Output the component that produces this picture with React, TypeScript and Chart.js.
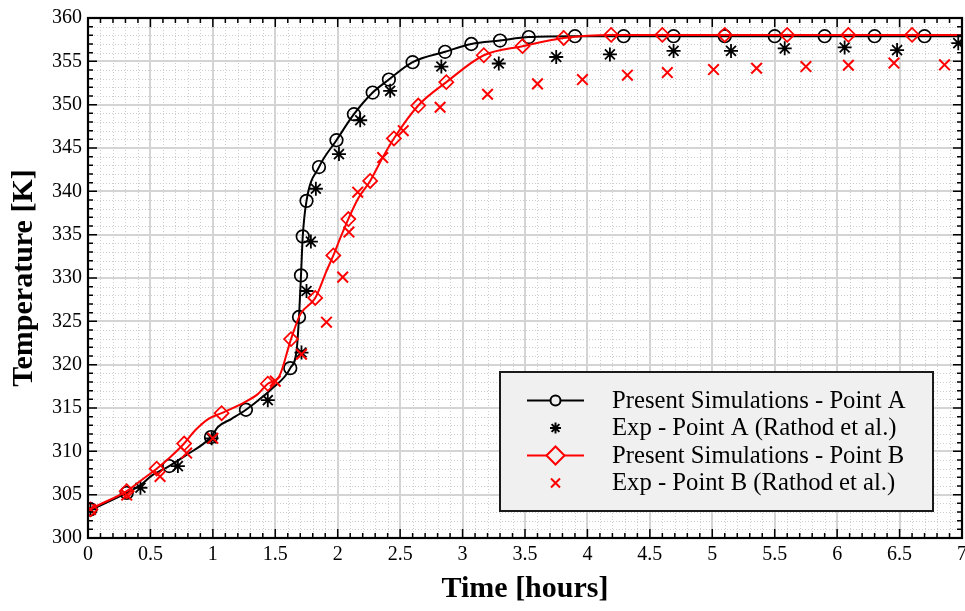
import React, { useEffect, useRef } from 'react';
import { Chart, registerables } from 'chart.js';

Chart.register(...registerables);

// ---------- data ----------
// Present simulations - Point A: curve vertices
const simALineTime = [0.0, 0.03, 0.31, 0.42, 0.51, 0.65, 0.78, 0.985, 1.04, 1.15, 1.265, 1.365, 1.47, 1.62, 1.672, 1.69, 1.706, 1.72, 1.75, 1.85, 1.99, 2.13, 2.28, 2.41, 2.6, 2.86, 3.07, 3.3, 3.53, 3.9, 7.0];
const simALineTemp = [303.1, 303.3, 305.2, 306.1, 307.2, 308.3, 309.5, 311.65, 312.8, 313.75, 314.8, 315.9, 317.2, 319.6, 321.8, 325.5, 330.3, 334.8, 338.9, 342.8, 345.9, 348.9, 351.4, 352.9, 354.9, 356.1, 357.0, 357.4, 357.8, 357.9, 357.9];
// Present simulations - Point A: circle markers
const simAMarkTime = [0.02, 0.31, 0.65, 0.985, 1.265, 1.62, 1.69, 1.706, 1.72, 1.75, 1.85, 1.99, 2.13, 2.28, 2.41, 2.6, 2.86, 3.07, 3.3, 3.53, 3.9, 4.29, 4.69, 5.1, 5.5, 5.9, 6.3, 6.7];
const simAMarkTemp = [303.3, 305.2, 308.3, 311.65, 314.8, 319.6, 325.5, 330.3, 334.8, 338.9, 342.8, 345.9, 348.9, 351.4, 352.9, 354.9, 356.1, 357.0, 357.4, 357.8, 357.9, 357.9, 357.9, 357.9, 357.9, 357.9, 357.9, 357.9];

// Exp - Point A (Rathod et al.)
const expATime = [0.02, 0.42, 0.72, 0.99, 1.44, 1.71, 1.75, 1.785, 1.825, 2.01, 2.18, 2.42, 2.83, 3.29, 3.75, 4.18, 4.69, 5.15, 5.58, 6.06, 6.48, 6.97];
const expATemp = [303.3, 305.8, 308.3, 311.5, 315.9, 321.4, 328.5, 334.2, 340.3, 344.3, 348.2, 351.6, 354.4, 354.75, 355.5, 355.8, 356.2, 356.2, 356.5, 356.6, 356.3, 357.1];

// Present simulations - Point B: curve vertices
const simBLineTime = [0.0, 0.02, 0.31, 0.43, 0.55, 0.66, 0.77, 0.857, 0.965, 1.07, 1.26, 1.36, 1.44, 1.53, 1.626, 1.7, 1.82, 1.91, 1.965, 2.02, 2.085, 2.165, 2.26, 2.36, 2.45, 2.645, 2.87, 3.17, 3.48, 3.81, 4.19, 7.0];
const simBLineTemp = [303.1, 303.3, 305.4, 306.7, 308.0, 309.35, 310.9, 312.4, 313.75, 314.4, 315.7, 316.6, 317.8, 318.6, 322.95, 325.8, 327.7, 330.8, 332.6, 334.6, 336.8, 339.2, 341.2, 343.9, 346.1, 349.9, 352.6, 355.7, 356.75, 357.7, 358.05, 358.05];
// Present simulations - Point B: diamond markers
const simBMarkTime = [0.02, 0.31, 0.55, 0.77, 1.07, 1.44, 1.626, 1.82, 1.965, 2.085, 2.26, 2.45, 2.645, 2.87, 3.17, 3.48, 3.81, 4.19, 4.6, 5.1, 5.6, 6.09, 6.6];
const simBMarkTemp = [303.3, 305.4, 308.0, 310.9, 314.4, 317.8, 322.95, 327.7, 332.6, 336.8, 341.2, 346.1, 349.9, 352.6, 355.7, 356.75, 357.7, 358.05, 358.05, 358.05, 358.05, 358.05, 358.05];

// Exp - Point B (Rathod et al.)
const expBTime = [0.02, 0.31, 0.577, 0.79, 1.0, 1.5, 1.71, 1.91, 2.04, 2.09, 2.16, 2.36, 2.525, 2.82, 3.2, 3.6, 3.96, 4.32, 4.64, 5.01, 5.355, 5.75, 6.09, 6.455, 6.86];
const expBTemp = [303.3, 304.95, 307.1, 309.8, 311.5, 318.1, 321.2, 324.9, 330.1, 335.3, 339.9, 343.9, 347.0, 349.7, 351.2, 352.4, 352.9, 353.4, 353.7, 354.05, 354.2, 354.4, 354.55, 354.8, 354.6];

const legendLabels = [
  'Present Simulations - Point A',
  'Exp - Point A (Rathod et al.)',
  'Present Simulations - Point B',
  'Exp - Point B (Rathod et al.)',
];

const X_MIN = 0, X_MAX = 7, X_MAJOR = 0.5, X_MINOR = 0.1;
const Y_MIN = 300, Y_MAX = 360, Y_MAJOR = 5, Y_MINOR = 1;
const X_TITLE = 'Time [hours]';
const Y_TITLE = 'Temperature [K]';

// ---------- styling ----------
const FONT = '"Liberation Serif", "Times New Roman", Times, serif';
const RED = '#ff0000';
const BLACK = '#000000';

const toXY = (xs: number[], ys: number[]) => xs.map((x, i) => ({ x, y: ys[i] }));

const gridFramePlugin = {
  id: 'gridFrame',
  beforeDatasetsDraw(chart: any) {
    const { ctx, chartArea: a, scales } = chart;
    const xs = scales.x, ys = scales.y;
    ctx.save();
    const nx = Math.round((X_MAX - X_MIN) / X_MINOR);
    const ny = Math.round((Y_MAX - Y_MIN) / Y_MINOR);
    const xr = Math.round(X_MAJOR / X_MINOR);
    const yr = Math.round(Y_MAJOR / Y_MINOR);
    // minor dotted
    ctx.strokeStyle = '#cdcdcd';
    ctx.lineWidth = 1;
    ctx.setLineDash([1, 2]);
    ctx.beginPath();
    for (let i = 1; i < nx; i++) {
      if (i % xr === 0) continue;
      const p = Math.round(xs.getPixelForValue(X_MIN + i * X_MINOR)) + 0.5;
      ctx.moveTo(p, a.top); ctx.lineTo(p, a.bottom);
    }
    for (let j = 1; j < ny; j++) {
      if (j % yr === 0) continue;
      const p = Math.round(ys.getPixelForValue(Y_MIN + j * Y_MINOR)) + 0.5;
      ctx.moveTo(a.left, p); ctx.lineTo(a.right, p);
    }
    ctx.stroke();
    // major solid
    ctx.setLineDash([]);
    ctx.strokeStyle = '#d4d4d4';
    ctx.lineWidth = 2;
    ctx.beginPath();
    for (let i = xr; i < nx; i += xr) {
      const p = Math.round(xs.getPixelForValue(X_MIN + i * X_MINOR));
      ctx.moveTo(p, a.top); ctx.lineTo(p, a.bottom);
    }
    for (let j = yr; j < ny; j += yr) {
      const p = Math.round(ys.getPixelForValue(Y_MIN + j * Y_MINOR));
      ctx.moveTo(a.left, p); ctx.lineTo(a.right, p);
    }
    ctx.stroke();
    ctx.restore();
  },
  afterDatasetsDraw(chart: any) {
    const { ctx, chartArea: a, scales } = chart;
    const xs = scales.x, ys = scales.y;
    ctx.save();
    const nx = Math.round((X_MAX - X_MIN) / X_MINOR);
    const ny = Math.round((Y_MAX - Y_MIN) / Y_MINOR);
    const xr = Math.round(X_MAJOR / X_MINOR);
    const yr = Math.round(Y_MAJOR / Y_MINOR);
    ctx.strokeStyle = BLACK;
    ctx.lineWidth = 1.5;
    ctx.beginPath();
    for (let i = 0; i <= nx; i++) {
      const L = i % xr === 0 ? 9 : 5;
      const p = xs.getPixelForValue(X_MIN + i * X_MINOR);
      ctx.moveTo(p, a.bottom); ctx.lineTo(p, a.bottom - L);
      ctx.moveTo(p, a.top); ctx.lineTo(p, a.top + L);
    }
    for (let j = 0; j <= ny; j++) {
      const L = j % yr === 0 ? 9 : 5;
      const p = ys.getPixelForValue(Y_MIN + j * Y_MINOR);
      ctx.moveTo(a.left, p); ctx.lineTo(a.left + L, p);
      ctx.moveTo(a.right, p); ctx.lineTo(a.right - L, p);
    }
    ctx.stroke();
    ctx.lineWidth = 2.2;
    ctx.strokeRect(a.left, a.top, a.right - a.left, a.bottom - a.top);
    ctx.restore();
  },
};

function drawMarker(ctx: CanvasRenderingContext2D, kind: string, x: number, y: number, r: number) {
  ctx.beginPath();
  if (kind === 'circle') {
    ctx.arc(x, y, r, 0, Math.PI * 2);
  } else if (kind === 'diamond') {
    ctx.moveTo(x - r, y); ctx.lineTo(x, y - r); ctx.lineTo(x + r, y); ctx.lineTo(x, y + r); ctx.closePath();
  } else if (kind === 'star') {
    for (let k = 0; k < 4; k++) {
      const ang = (k * Math.PI) / 4;
      ctx.moveTo(x - Math.cos(ang) * r, y - Math.sin(ang) * r);
      ctx.lineTo(x + Math.cos(ang) * r, y + Math.sin(ang) * r);
    }
  } else if (kind === 'x') {
    ctx.moveTo(x - r, y - r); ctx.lineTo(x + r, y + r);
    ctx.moveTo(x - r, y + r); ctx.lineTo(x + r, y - r);
  }
  ctx.stroke();
}

const legendPlugin = {
  id: 'customLegend',
  afterDraw(chart: any) {
    const { ctx } = chart;
    const bx = 500, by = 372, bw = 433, bh = 139;
    ctx.save();
    ctx.fillStyle = '#f0f0f0';
    ctx.fillRect(bx, by, bw, bh);
    ctx.strokeStyle = '#1a1a1a';
    ctx.lineWidth = 2;
    ctx.strokeRect(bx, by, bw, bh);
    const rows = [400.5, 428, 455.5, 483];
    const styles = [
      { color: BLACK, line: true, marker: 'circle', r: 5 },
      { color: BLACK, line: false, marker: 'star', r: 5.5 },
      { color: RED, line: true, marker: 'diamond', r: 9 },
      { color: RED, line: false, marker: 'x', r: 4.5 },
    ];
    rows.forEach((cy, i) => {
      const s = styles[i];
      ctx.strokeStyle = s.color;
      ctx.lineWidth = 2;
      if (s.line) {
        ctx.beginPath();
        ctx.moveTo(527, cy); ctx.lineTo(584, cy);
        ctx.stroke();
        ctx.fillStyle = '#f0f0f0';
        ctx.beginPath();
        if (s.marker === 'circle') ctx.arc(555.5, cy, s.r, 0, Math.PI * 2);
        else { ctx.moveTo(555.5 - s.r, cy); ctx.lineTo(555.5, cy - s.r); ctx.lineTo(555.5 + s.r, cy); ctx.lineTo(555.5, cy + s.r); ctx.closePath(); }
        ctx.fill();
      }
      drawMarker(ctx, s.marker, 555.5, cy, s.r);
      ctx.fillStyle = BLACK;
      ctx.font = `24.7px ${FONT}`;
      ctx.textBaseline = 'middle';
      ctx.textAlign = 'left';
      ctx.fillText(legendLabels[i], 612, cy + 1);
    });
    ctx.restore();
  },
};

export default function App() {
  const ref = useRef<HTMLCanvasElement | null>(null);
  useEffect(() => {
    if (!ref.current) return;
    const chart = new Chart(ref.current, {
      type: 'line',
      data: {
        datasets: [
          {
            label: legendLabels[2] + ' (curve)',
            data: toXY(simBLineTime, simBLineTemp),
            borderColor: RED, borderWidth: 2, pointRadius: 0, fill: false,
            cubicInterpolationMode: 'monotone',
          },
          {
            label: legendLabels[2],
            data: toXY(simBMarkTime, simBMarkTemp),
            showLine: false, pointStyle: 'rectRot', pointRadius: 7, pointHoverRadius: 7,
            pointBorderColor: RED, pointBackgroundColor: 'rgba(0,0,0,0)', pointBorderWidth: 1.7,
            borderColor: RED,
          },
          {
            label: legendLabels[3],
            data: toXY(expBTime, expBTemp),
            showLine: false, pointStyle: 'crossRot', pointRadius: 7.5, pointHoverRadius: 7.5,
            pointBorderColor: RED, pointBorderWidth: 2, borderColor: RED,
          },
          {
            label: legendLabels[0] + ' (curve)',
            data: toXY(simALineTime, simALineTemp),
            borderColor: BLACK, borderWidth: 2, pointRadius: 0, fill: false,
            cubicInterpolationMode: 'monotone',
          },
          {
            label: legendLabels[0],
            data: toXY(simAMarkTime, simAMarkTemp),
            showLine: false, pointStyle: 'circle', pointRadius: 6.3, pointHoverRadius: 6.3,
            pointBorderColor: BLACK, pointBackgroundColor: 'rgba(0,0,0,0)', pointBorderWidth: 1.7,
            borderColor: BLACK,
          },
          {
            label: legendLabels[1],
            data: toXY(expATime, expATemp),
            showLine: false, pointStyle: 'star', pointRadius: 7, pointHoverRadius: 7,
            pointBorderColor: BLACK, pointBorderWidth: 1.8, borderColor: BLACK,
          },
        ],
      },
      options: {
        animation: false,
        responsive: false,
        devicePixelRatio: 1,
        events: [],
        layout: { autoPadding: false, padding: { top: 16, right: 3, left: 0, bottom: 0 } },
        plugins: { legend: { display: false }, tooltip: { enabled: false }, title: { display: false } },
        scales: {
          x: {
            type: 'linear', min: X_MIN, max: X_MAX,
            grid: { display: false, drawTicks: false },
            border: { display: false },
            ticks: {
              stepSize: X_MAJOR, color: BLACK, padding: 5, font: { family: FONT, size: 20 }, maxRotation: 0, autoSkip: false,
              callback: (v: any) => String(Math.round(Number(v) * 10) / 10),
            },
            title: { display: true, text: X_TITLE, color: BLACK, font: { family: FONT, size: 30, weight: 'bold', lineHeight: 1.2 }, padding: { top: 0, bottom: 4 } },
            afterFit: (s: any) => { s.height = 73; s.paddingLeft = 0; s.paddingRight = 0; },
          },
          y: {
            type: 'linear', min: Y_MIN, max: Y_MAX,
            grid: { display: false, drawTicks: false },
            border: { display: false },
            ticks: { stepSize: Y_MAJOR, color: BLACK, padding: 6, font: { family: FONT, size: 20 }, autoSkip: false },
            title: { display: true, text: Y_TITLE, color: BLACK, font: { family: FONT, size: 30, weight: 'bold', lineHeight: 1.2 }, padding: { top: 6, bottom: 0 } },
            afterFit: (s: any) => { s.width = 88; },
          },
        },
      } as any,
      plugins: [gridFramePlugin, legendPlugin],
    });
    return () => chart.destroy();
  }, []);
  return (
    <div style={{ position: 'absolute', left: 0, top: 0, width: 965, height: 611, background: '#fff' }}>
      <canvas ref={ref} width={965} height={611} style={{ display: 'block', width: 965, height: 611 }} />
    </div>
  );
}
